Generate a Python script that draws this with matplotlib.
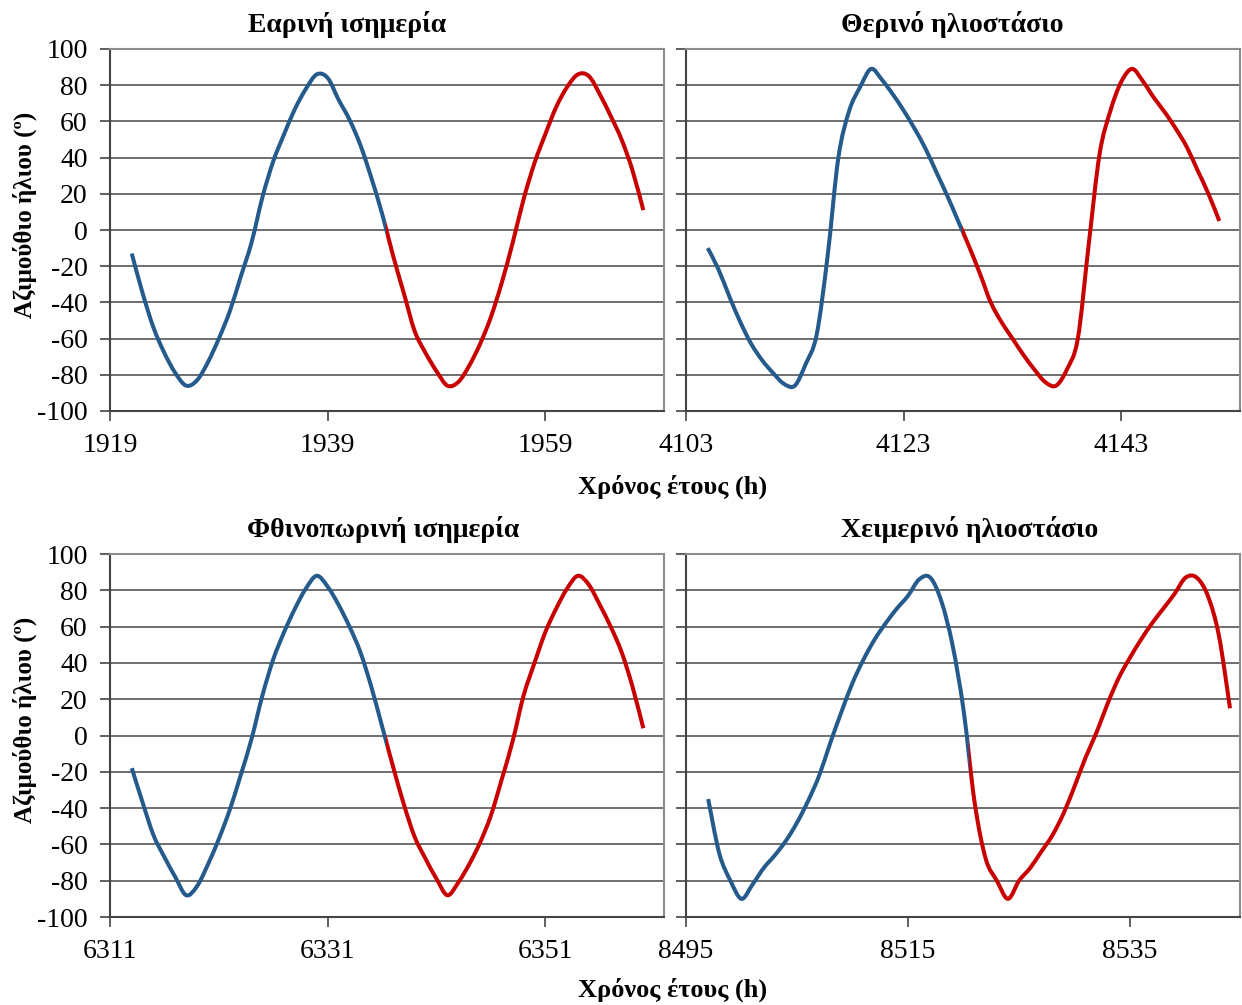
import matplotlib
matplotlib.use("Agg")
import matplotlib.pyplot as plt
from matplotlib.patches import Rectangle, PathPatch
from matplotlib.path import Path
import numpy as np

plt.rcParams['font.family'] = ['Liberation Serif', 'DejaVu Serif']
plt.rcParams['axes.unicode_minus'] = False

# Ωριαίες τιμές αζιμουθίου (2 ημέρες ανά περίοδο)
titles = ["Εαρινή ισημερία", "Θερινό ηλιοστάσιο",
          "Φθινοπωρινή ισημερία", "Χειμερινό ηλιοστάσιο"]
axis_start = [1919, 4103, 6311, 8495]
axis_span = [50.9, 50.9, 50.9, 49.9]
first_hour = [1921, 4105, 6313, 8497]
day_split = [1944.4, 4128.4, 6336.4, 8520.5]

spring_eq = [-13, -35, -54, -68, -79, -86, -83, -73, -60, -45, -26, -7,
             18, 38, 53, 67, 78, 86, 84, 72, 61, 47, 29, 9,
             -14, -35, -56, -68, -78, -86, -84, -75, -63, -48, -29, -7,
             17, 37, 53, 68, 79, 86, 85, 75, 63, 50, 33, 11]
summer_sol = [-10, -22, -37, -51, -63, -72, -79, -85, -86, -74, -58, -15,
              40, 66, 79, 89, 83, 75, 66, 56, 45, 32, 19, 5,
              -9, -24, -40, -51, -60, -69, -77, -84, -86, -77, -60, -8,
              42, 66, 82, 89, 82, 73, 65, 56, 46, 33, 20, 5]
autumn_eq = [-18, -37, -55, -67, -78, -88, -83, -71, -57, -41, -22, -2,
             22, 42, 57, 70, 81, 88, 82, 72, 60, 46, 27, 5,
             -17, -38, -56, -68, -79, -88, -81, -71, -59, -44, -24, -3,
             22, 40, 57, 70, 81, 88, 83, 72, 60, 46, 27, 4]
winter_sol = [-35, -65, -80, -90, -82, -73, -66, -58, -48, -36, -22, -4,
              13, 29, 42, 53, 62, 70, 77, 86, 87, 74, 50, 14,
              -37, -68, -80, -90, -80, -73, -64, -55, -43, -28, -12, 2,
              18, 32, 43, 53, 62, 70, 78, 87, 87, 77, 55, 15]
series = [spring_eq, summer_sol, autumn_eq, winter_sol]

BLUE = '#245B8C'
RED = '#C80000'
LW = 2.9


def smooth_path(x, y):
    # ομαλή καμπύλη τύπου Excel (Bezier μέσα από τα σημεία)
    pts = np.column_stack([x, y]).astype(float)
    n = len(pts)
    verts = [pts[0]]
    codes = [Path.MOVETO]
    for k in range(n - 1):
        p0 = pts[k - 1] if k > 0 else pts[k]
        p1 = pts[k]
        p2 = pts[k + 1]
        p3 = pts[k + 2] if k + 2 < n else pts[k + 1]
        verts += [p1 + (p2 - p0) / 6, p2 - (p3 - p1) / 6, p2]
        codes += [Path.CURVE4] * 3
    return Path(verts, codes)


fig = plt.figure(figsize=(12.42, 10.05), dpi=100)
W, H = 1242, 1005
boxes = [(110, 49, 664, 411), (686, 49, 1240, 411),
         (110, 554, 664, 917), (686, 554, 1240, 917)]
title_x = [347, 952, 383, 970]

for i, (x0, y0, x1, y1) in enumerate(boxes):
    ax = fig.add_axes([x0 / W, 1 - y1 / H, (x1 - x0) / W, (y1 - y0) / H])
    vals = series[i]
    hours = np.arange(first_hour[i], first_hour[i] + len(vals))
    xmin = axis_start[i]
    xmax = xmin + axis_span[i]

    path = smooth_path(hours, vals)
    red_line = ax.add_patch(PathPatch(path, fill=False, edgecolor=RED, lw=LW,
                                      joinstyle='round', capstyle='butt', zorder=3))
    blue_line = ax.add_patch(PathPatch(path, fill=False, edgecolor=BLUE, lw=LW,
                                       joinstyle='round', capstyle='butt', zorder=3))
    # πρώτη ημέρα μπλε, δεύτερη κόκκινη
    blue_line.set_clip_path(Rectangle((xmin, -120), day_split[i] - xmin, 240,
                                      transform=ax.transData))
    red_line.set_clip_path(Rectangle((day_split[i], -120), xmax - day_split[i], 240,
                                     transform=ax.transData))

    ax.set_xlim(xmin, xmax)
    ax.set_ylim(-100, 100)
    ax.set_yticks(np.arange(-100, 101, 20))
    ax.set_xticks(np.arange(xmin, xmax, 20))
    ax.yaxis.grid(True, color='#555555', lw=1.2)
    ax.set_axisbelow(True)

    for side in ['top', 'right']:
        ax.spines[side].set_color('#8C8C8C')
        ax.spines[side].set_linewidth(1.5)
    for side in ['left', 'bottom']:
        ax.spines[side].set_color('#444444')
        ax.spines[side].set_linewidth(1.5)

    ax.tick_params(axis='both', direction='out', length=7, width=1.2,
                   color='#444444', labelsize=20, pad=9)
    if i % 2 == 1:
        ax.tick_params(axis='y', labelleft=False)

    ax.set_title(titles[i], fontsize=20, fontweight='bold', pad=12,
                 x=(title_x[i] - x0) / (x1 - x0))

for yc in [215, 720]:
    fig.text(25 / W, 1 - yc / H, "Αζιμούθιο ήλιου (º)", rotation=90,
             fontsize=18, fontweight='bold', ha='center', va='center')
for yc in [487, 990]:
    fig.text(673 / W, 1 - yc / H, "Χρόνος έτους (h)",
             fontsize=19, fontweight='bold', ha='center', va='center')

fig.savefig("out.png", dpi=100)
